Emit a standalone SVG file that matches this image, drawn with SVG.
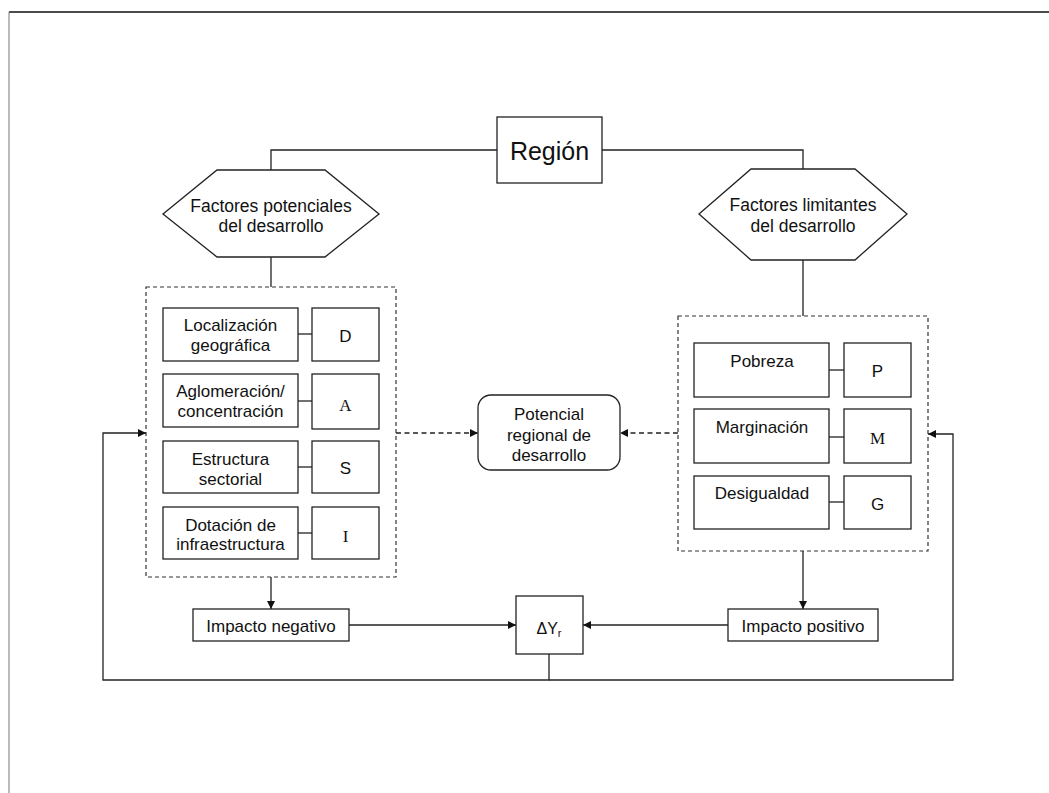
<svg xmlns="http://www.w3.org/2000/svg" width="1049" height="793" viewBox="0 0 1049 793">
<style>
.box{fill:#fff;stroke:#222;stroke-width:1.3}
.dbox{fill:none;stroke:#333;stroke-width:1.2;stroke-dasharray:4,3}
.ln{fill:none;stroke:#222;stroke-width:1.3}
.dl{fill:none;stroke:#222;stroke-width:1.3;stroke-dasharray:5,3.5}
.t{font-family:"Liberation Sans",Arial,sans-serif;font-size:17px;fill:#111;text-anchor:middle}
.s{font-family:"Liberation Serif","Times New Roman",serif;font-size:17px;fill:#111;text-anchor:middle}
</style>
<defs>
<marker id="ah" viewBox="0 0 10 10" refX="10" refY="5" markerWidth="8" markerHeight="8" markerUnits="userSpaceOnUse" orient="auto">
<path d="M0,0 L10,5 L0,10 z" fill="#111"/>
</marker>
</defs>
<rect width="1049" height="793" fill="#fff"/>
<g id="page-border">
<line x1="9" y1="12" x2="1049" y2="12" stroke="#111" stroke-width="1.5"/>
<line x1="9" y1="12" x2="9" y2="793" stroke="#777" stroke-width="1"/>
</g>
<g id="connectors">
<polyline class="ln" points="497,150 271,150 271,170"/>
<polyline class="ln" points="602,150 803,150 803,169"/>
<line class="ln" x1="271" y1="257" x2="271" y2="287"/>
<line class="ln" x1="803" y1="260" x2="803" y2="316"/>
<line class="ln" x1="298" y1="334" x2="312" y2="334"/>
<line class="ln" x1="298" y1="401" x2="312" y2="401"/>
<line class="ln" x1="298" y1="467" x2="312" y2="467"/>
<line class="ln" x1="298" y1="533" x2="312" y2="533"/>
<line class="ln" x1="829" y1="370" x2="844" y2="370"/>
<line class="ln" x1="829" y1="437" x2="844" y2="437"/>
<line class="ln" x1="829" y1="502" x2="844" y2="502"/>
<line class="dl" x1="396" y1="433" x2="478" y2="433" marker-end="url(#ah)"/>
<line class="dl" x1="678" y1="433" x2="620" y2="433" marker-end="url(#ah)"/>
<line class="ln" x1="271" y1="577" x2="271" y2="609" marker-end="url(#ah)"/>
<line class="ln" x1="803" y1="551" x2="803" y2="609" marker-end="url(#ah)"/>
<line class="ln" x1="349" y1="625" x2="516" y2="625" marker-end="url(#ah)"/>
<line class="ln" x1="728" y1="625" x2="583" y2="625" marker-end="url(#ah)"/>
<polyline class="ln" points="549,654 549,680 103,680 103,433 146,433" marker-end="url(#ah)"/>
<polyline class="ln" points="549,680 953,680 953,434 928,434" marker-end="url(#ah)"/>
</g>
<g id="region">
<rect class="box" x="497" y="117" width="105" height="66"/>
<text class="t" x="549.5" y="159.5" style="font-size:25px">Región</text>
</g>
<g id="factores-potenciales">
<polygon class="box" points="163,214 217,170 325,170 379,214 325,257 217,257"/>
<text class="t" x="271" y="212" style="font-size:17.5px">Factores potenciales</text>
<text class="t" x="271" y="232" style="font-size:17.5px">del desarrollo</text>
</g>
<g id="factores-limitantes">
<polygon class="box" points="699,214 751,169 855,169 907,214 855,260 751,260"/>
<text class="t" x="803" y="211" style="font-size:17.5px">Factores limitantes</text>
<text class="t" x="803" y="232" style="font-size:17.5px">del desarrollo</text>
</g>
<g id="potenciales-group">
<rect class="dbox" x="146" y="287" width="250" height="290"/>
</g>
<g id="localizacion">
<rect class="box" x="163" y="308" width="135" height="53"/>
<text class="t" x="230.5" y="331">Localización</text>
<text class="t" x="230.5" y="351">geográfica</text>
</g>
<g id="D">
<rect class="box" x="312" y="308" width="67" height="53"/>
<text class="t" x="345.5" y="342">D</text>
</g>
<g id="aglomeracion">
<rect class="box" x="163" y="374" width="135" height="53"/>
<text class="t" x="230.5" y="397">Aglomeración/</text>
<text class="t" x="230.5" y="417">concentración</text>
</g>
<g id="A">
<rect class="box" x="312" y="374" width="67" height="55"/>
<text class="s" x="345.5" y="411">A</text>
</g>
<g id="estructura">
<rect class="box" x="163" y="441" width="135" height="52"/>
<text class="t" x="230.5" y="465">Estructura</text>
<text class="t" x="230.5" y="485">sectorial</text>
</g>
<g id="S">
<rect class="box" x="312" y="441" width="67" height="52"/>
<text class="t" x="345.5" y="473.5">S</text>
</g>
<g id="dotacion">
<rect class="box" x="163" y="507" width="135" height="52"/>
<text class="t" x="230.5" y="531">Dotación de</text>
<text class="t" x="230.5" y="550">infraestructura</text>
</g>
<g id="I">
<rect class="box" x="312" y="507" width="67" height="52"/>
<text class="s" x="345.5" y="542">I</text>
</g>
<g id="limitantes-group">
<rect class="dbox" x="678" y="316" width="250" height="235"/>
</g>
<g id="pobreza">
<rect class="box" x="694" y="343" width="135" height="54"/>
<text class="t" x="762" y="367">Pobreza</text>
</g>
<g id="P">
<rect class="box" x="844" y="343" width="67" height="54"/>
<text class="t" x="877.5" y="377">P</text>
</g>
<g id="marginacion">
<rect class="box" x="694" y="409" width="135" height="54"/>
<text class="t" x="762" y="433">Marginación</text>
</g>
<g id="M">
<rect class="box" x="844" y="409" width="67" height="54"/>
<text class="s" x="877.5" y="443.5">M</text>
</g>
<g id="desigualdad">
<rect class="box" x="694" y="476" width="135" height="53"/>
<text class="t" x="762" y="499">Desigualdad</text>
</g>
<g id="G">
<rect class="box" x="844" y="476" width="67" height="53"/>
<text class="t" x="877.5" y="509.5">G</text>
</g>
<g id="potencial-regional">
<rect class="box" x="478" y="395" width="142" height="75" rx="13" ry="13"/>
<text class="t" x="549" y="420">Potencial</text>
<text class="t" x="549" y="441">regional de</text>
<text class="t" x="549" y="461">desarrollo</text>
</g>
<g id="impacto-negativo">
<rect class="box" x="193" y="609" width="156" height="32"/>
<text class="t" x="271" y="632">Impacto negativo</text>
</g>
<g id="impacto-positivo">
<rect class="box" x="728" y="609" width="150" height="32"/>
<text class="t" x="803" y="632">Impacto positivo</text>
</g>
<g id="delta-y">
<rect class="box" x="516" y="596" width="67" height="58"/>
<text class="t" x="549" y="634" style="font-size:16px">ΔY<tspan dy="3" style="font-size:11px">r</tspan></text>
</g>
</svg>
